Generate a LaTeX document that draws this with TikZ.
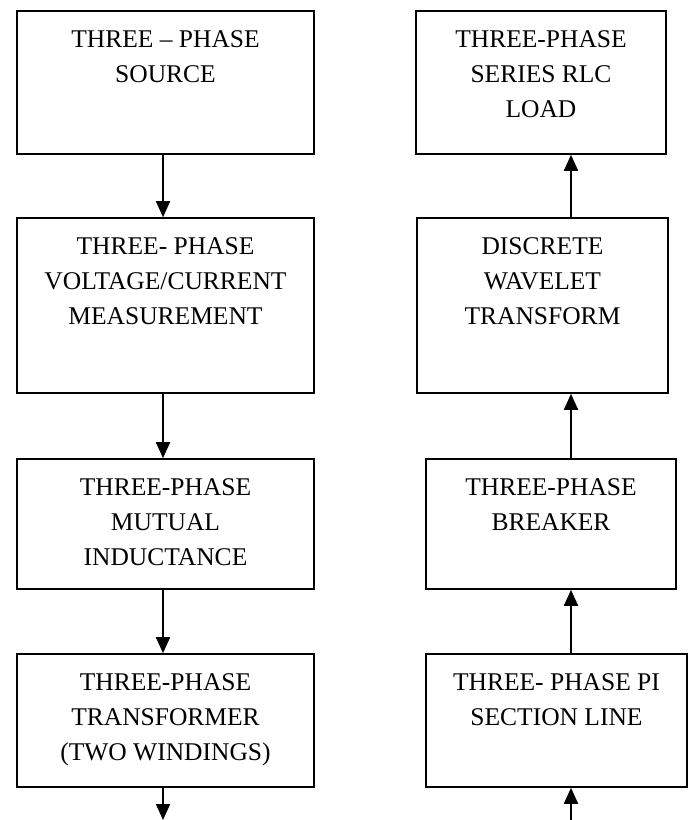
\documentclass[tikz,border=0pt]{standalone}
\usepackage{fontspec}
\setmainfont{Liberation Serif}
\usetikzlibrary{arrows.meta}
\tikzstyle{block} = [rectangle, draw=black, line width=1.6pt, inner sep=0pt]
\tikzstyle{caption} = [align=center, inner sep=0pt, anchor=north, font=\fontsize{25.5}{35}\selectfont]
\tikzstyle{flow} = [line width=1.8pt, -{Triangle[length=16pt,width=14pt]}]

\begin{document}
\begin{tikzpicture}[x=1pt,y=-1pt]%
			\useasboundingbox (0,0) rectangle (689,820);%
			\coordinate (lx) at (163,0);%
			\coordinate (rx) at (571,0);%
			% left column
			\node[block, minimum width=297pt, minimum height=143pt] (source) at (165.5,82.5) {};%
			\node[block, minimum width=297pt, minimum height=175pt] (meas) at (165.5,305.5) {};%
			\node[block, minimum width=297pt, minimum height=130pt] (mutual) at (165.5,524) {};%
			\node[block, minimum width=297pt, minimum height=133pt] (trafo) at (165.5,720.5) {};%
			\node[caption] (source-t) at ([yshift=-20pt]source.north) {THREE – PHASE\\SOURCE};%
			\node[caption] (meas-t) at ([yshift=-20pt]meas.north) {THREE- PHASE\\VOLTAGE/CURRENT\\MEASUREMENT};%
			\node[caption] (mutual-t) at ([yshift=-20pt]mutual.north) {THREE-PHASE\\MUTUAL\\INDUCTANCE};%
			\node[caption] (trafo-t) at ([yshift=-20pt]trafo.north) {THREE-PHASE\\TRANSFORMER\\(TWO WINDINGS)};%
			% right column
			\node[block, minimum width=250pt, minimum height=143pt] (load) at (541,82.5) {};%
			\node[block, minimum width=251pt, minimum height=175pt] (dwt) at (542.5,305.5) {};%
			\node[block, minimum width=250pt, minimum height=130pt] (breaker) at (551,524) {};%
			\node[block, minimum width=261pt, minimum height=133pt] (piline) at (556.5,720.5) {};%
			\node[caption] (load-t) at ([yshift=-20pt]load.north) {THREE-PHASE\\SERIES RLC\\LOAD};%
			\node[caption] (dwt-t) at ([yshift=-20pt]dwt.north) {DISCRETE\\WAVELET\\TRANSFORM};%
			\node[caption] (breaker-t) at ([yshift=-20pt]breaker.north) {THREE-PHASE\\BREAKER};%
			\node[caption] (piline-t) at ([yshift=-20pt]piline.north) {THREE- PHASE PI\\SECTION LINE};%
			\coordinate (lend) at (163,820);%
			\coordinate (rstart) at (571,820);%
			\draw[flow] (source.south -| lx) -- (meas.north -| lx);%
			\draw[flow] (meas.south -| lx) -- (mutual.north -| lx);%
			\draw[flow] (mutual.south -| lx) -- (trafo.north -| lx);%
			\draw[flow] (trafo.south -| lx) -- (lend);%
			\draw[flow] (rstart) -- (piline.south -| rx);%
			\draw[flow] (piline.north -| rx) -- (breaker.south -| rx);%
			\draw[flow] (breaker.north -| rx) -- (dwt.south -| rx);%
			\draw[flow] (dwt.north -| rx) -- (load.south -| rx);%
		\end{tikzpicture}
\end{document}
